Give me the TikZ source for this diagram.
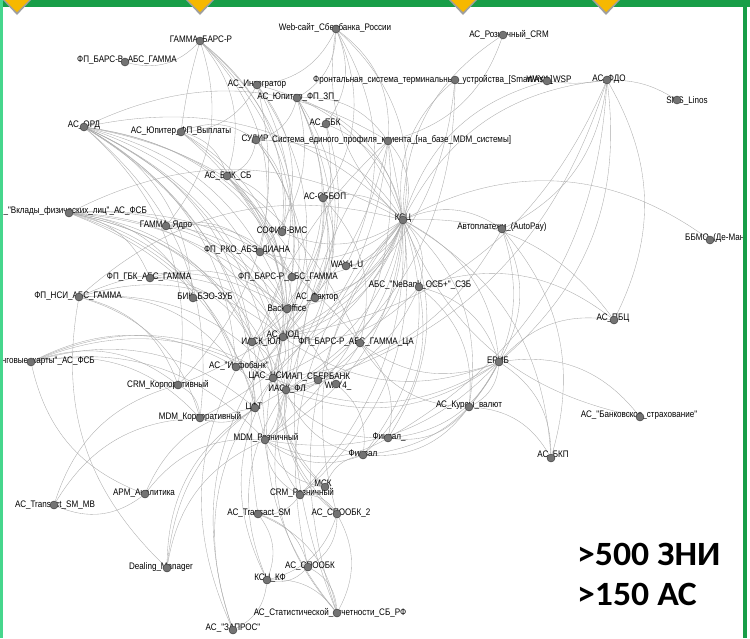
\documentclass[tikz,border=0pt]{standalone}
\usepackage{fontspec}
\newfontfamily\lblfont[FakeStretch=0.85]{Liberation Sans}
\newfontfamily\bigfont[FakeStretch=1.05]{Carlito}
\pgfdeclarelayer{bg}
\pgfdeclarelayer{edges}
\pgfsetlayers{bg,edges,main}
\definecolor{topgreen}{RGB}{24,158,72}
\definecolor{leftgreen}{RGB}{70,214,140}
\definecolor{diayellow}{RGB}{246,184,0}
\tikzset{
  lbl/.style={font=\lblfont\fontsize{9.5}{10}\selectfont, inner sep=0pt, text=black},
  nd/.style={circle, fill=black!55, draw=black!80, line width=0.4pt, minimum size=8pt, inner sep=0pt},
  lnk/.style={draw=black!33, line width=0.35pt, bend left=28},
  bigtxt/.style={font=\bigfont\bfseries\fontsize{34}{36}\selectfont, anchor=base west, inner sep=0pt, text=black}
}
\newcommand\sysn[5][]{\node[lbl,#1] (#2L) at (#4) {#5}; \node[nd] (#2) at (#3) {};}
\begin{document}
\begin{tikzpicture}[x=1pt,y=-1pt]
\useasboundingbox (0,0) rectangle (750,638);
\begin{pgfonlayer}{bg}
\fill[white] (0,0) rectangle (750,638);
\end{pgfonlayer}
\begin{scope}
\clip (3,0) rectangle (743,638);
\sysn{gbr}{200,41}{201,40}{ГАММА\_БАРС-Р}
\sysn{fpbv}{125,62}{127,60}{ФП\_БАРС-В\_АБС\_ГАММА}
\sysn{web}{336,29}{335,28}{Web-сайт\_Сбербанка\_России}
\sysn{crmr}{503,35}{509,35}{АС\_Розничный\_CRM}
\sysn{integ}{257,85}{257,84}{АС\_Интегратор}
\sysn{jzp}{297,98}{298,97}{АС\_Юпитер\_ФП\_ЗП\_}
\sysn[anchor=west]{front}{455,80}{313,80}{Фронтальная\_система\_терминальные\_устройства\_[SmartVista]}
\sysn{wsp}{547,81}{549,80}{WAY4\_WSP}
\sysn{fdo}{607,80}{609,79}{АС\_ФДО}
\sysn{sms}{677,100}{687,101}{SMS\_Linos}
\sysn{ord}{84,127}{84,125}{АС\_ОРД}
\sysn{jvyp}{181,132}{181,131}{АС\_Юпитер\_ФП\_Выплаты}
\sysn{ebk}{326,124}{325,123}{АС\_ЕБК}
\sysn{sudir}{256,140}{255,139}{СУДИР}
\sysn[anchor=west]{sep}{388,141}{272,140}{Система\_единого\_профиля\_клиента\_[на\_базе\_MDM\_системы]}
\sysn{bik}{227,176}{228,176}{АС\_БИК\_СБ}
\sysn{sbop}{323,198}{325,196}{АС-СББОП}
\sysn{ksc}{403,220}{403,218}{КСЦ}
\sysn{autop}{502,229}{502,227}{Автоплатежи\_(AutoPay)}
\sysn[anchor=west]{bbmo}{710,240}{685,238}{ББМО\_(Де-Мани)}
\sysn[anchor=east]{vkl}{69,213}{147,211}{ФП\_"Вклады\_физических\_лиц"\_АС\_ФСБ}
\sysn{gyadro}{166,226}{166,225}{ГАММА\_Ядро}
\sysn{sofia}{282,232}{282,230}{СОФИЯ-ВМС}
\sysn{rko}{260,252}{247,250}{ФП\_РКО\_АБЭ\_ДИАНА}
\sysn{way4u}{346,266}{347,265}{WAY4\_U}
\sysn{gbk}{150,278}{149,277}{ФП\_ГБК\_АБС\_ГАММА}
\sysn{bars}{292,277}{288,277}{ФП\_БАРС-Р\_АБС\_ГАММА}
\sysn{nsi}{79,297}{78,296}{ФП\_НСИ\_АБС\_ГАММА}
\sysn{bik2}{193,298}{205,297}{БИК\_БЭО-ЗУБ}
\sysn{faktor}{315,298}{317,297}{АС\_Фактор}
\sysn{boff}{287,309}{287,308}{BackOffice}
\sysn{neb}{419,287}{420,285}{АБС\_"NeBank\_ОСБ+"\_СЗБ}
\sysn{pbc}{614,320}{613,318}{АС\_ПБЦ}
\sysn{cod}{283,337}{283,335}{АС\_ЦОД}
\sysn{iasu}{252,342}{261,342}{ИАСК\_ЮЛ}
\sysn{barsca}{360,343}{356,342}{ФП\_БАРС-Р\_АБС\_ГАММА\_ЦА}
\sysn{infob}{236,367}{239,366}{АС\_"Инфобанк"}
\sysn{cas}{273,378}{268,376}{ЦАС\_НСИ}
\sysn{iap}{318,380}{318,377}{ИАП\_СБЕРБАНК}
\sysn{way4}{336,384}{338,386}{WAY4\_}
\sysn{iasf}{286,390}{287,389}{ИАСК\_ФЛ}
\sysn{crmk}{178,385}{168,385}{CRM\_Корпоративный}
\sysn{cft}{255,408}{254,407}{ЦФТ}
\sysn{mdmk}{200,418}{200,417}{MDM\_Корпоративный}
\sysn{mdmr}{265,440}{266,438}{MDM\_Розничный}
\sysn{kurs}{469,407}{469,405}{АС\_Курсы\_валют}
\sysn{erib}{499,362}{498,360}{ЕРИБ}
\sysn{bstr}{640,417}{639,415}{АС\_"Банковское\_страхование"}
\sysn{finv1}{388,438}{389,437}{Финвал\_}
\sysn{finv2}{363,455}{363,453}{Финвал}
\sysn{bkp}{551,458}{553,455}{АС\_БКП}
\sysn{msk}{325,487}{323,483}{МСК}
\sysn{crmroz}{300,495}{302,493}{CRM\_Розничный}
\sysn{apm}{145,494}{144,493}{APM\_Аналитика}
\sysn{tsmmb}{54,505}{55,505}{АС\_Transact\_SM\_MB}
\sysn{tsm}{258,514}{259,513}{АС\_Transact\_SM}
\sysn{spoobk2}{337,514}{341,513}{АС\_СПООБК\_2}
\sysn{deal}{167,568}{161,567}{Dealing\_Manager}
\sysn{spoobk}{308,567}{310,566}{АС\_СПООБК}
\sysn{kscf}{267,580}{270,578}{КСЦ\_КФ}
\sysn{stat}{337,613}{330,613}{АС\_Статистической\_отчетности\_СБ\_РФ}
\sysn{zapros}{233,630}{233,628}{АС\_"ЗАПРОС"}
\sysn[anchor=east]{proc}{31,362}{95,361}{ФП\_"Процессинговые\_карты"\_АС\_ФСБ}
\end{scope}

\begin{pgfonlayer}{edges}
\foreach \a/\b in {
 ord/cod, ord/iasu, ord/infob, ord/cas, ord/iasf, ord/cft, ord/mdmk, ord/mdmr, ord/boff, ord/faktor, ord/barsca, ord/bars, ord/crmk, ord/bik2, ord/ksc, ord/sep,
 vkl/gbk, vkl/bik2, vkl/boff, vkl/cod, vkl/iasu, vkl/infob, vkl/cas, vkl/iasf, vkl/cft, vkl/mdmr, vkl/barsca, vkl/way4, vkl/ksc,
 nsi/cod, nsi/infob, nsi/iasf, nsi/crmk, nsi/mdmk, nsi/boff, nsi/ksc,
 proc/crmk, proc/mdmk, proc/cft, proc/infob, proc/cas, proc/mdmr, proc/iasf,
 gbr/bik, gbr/gyadro, gbr/rko, gbr/bars, gbr/sofia, gbr/boff,
 gyadro/rko, gyadro/bars, gyadro/boff, gyadro/cod,
 gbk/boff, gbk/cod, gbk/iasu,
 jvyp/sudir, jvyp/cod, jvyp/iasf, jvyp/boff, jvyp/bik,
 integ/ksc, integ/cod, integ/iasu, integ/sofia, integ/jvyp, integ/crmk,
 jzp/sudir, jzp/sep, jzp/ksc, jzp/cod, jzp/boff, jzp/iasf, jzp/rko, jzp/faktor,
 web/jzp, web/ebk, web/sep, web/ksc, web/sbop, web/integ, web/way4u,
 ebk/ksc, ebk/cod, ebk/iasu,
 sudir/cod, sudir/ksc, sudir/iasf, sudir/sofia, sudir/bik,
 sep/ksc, sep/crmk, sep/mdmk, sep/mdmr, sep/crmroz,
 bik/sofia, bik/cod, bik/cas, bik/iasf,
 sbop/ksc, sbop/cod, sbop/faktor, sbop/iasu, sbop/barsca, sbop/cas,
 ksc/crmr, ksc/web, ksc/front, ksc/wsp, ksc/fdo, ksc/autop, ksc/pbc, ksc/erib, ksc/kurs, ksc/bkp, ksc/finv1, ksc/finv2, ksc/neb, ksc/cod, ksc/iasu, ksc/iasf, ksc/cas, ksc/barsca, ksc/way4u, ksc/sofia, ksc/rko, ksc/bars, ksc/faktor, ksc/boff, ksc/mdmr, ksc/crmroz, ksc/infob, ksc/iap,
 crmr/sep, front/cod, front/iasf,
 fdo/autop, fdo/pbc, fdo/erib, fdo/cod, fdo/iasf, fdo/finv1,
 autop/erib, autop/kurs, autop/bkp, autop/cas,
 neb/erib, neb/pbc, neb/kurs, neb/cod, neb/iasf, neb/finv2,
 erib/pbc, erib/kurs, erib/finv1, erib/finv2, erib/bkp, erib/cod, erib/iasf, erib/cas, erib/mdmr, erib/barsca,
 kurs/finv1, kurs/finv2, kurs/barsca, kurs/bkp,
 bstr/ksc, cod/iasu, cod/infob, cod/cas,
 iasu/cas, infob/cft, cas/mdmr, iasf/mdmr, cft/mdmk, crmk/mdmk, barsca/iasf, barsca/finv1, way4/finv2, iap/iasf,
 crmroz/msk, crmroz/tsm, crmroz/spoobk2, crmroz/mdmr, crmroz/iasf, tsm/kscf, tsm/spoobk, tsm/stat, tsm/sep,
 spoobk2/spoobk, spoobk2/kscf, spoobk2/stat, spoobk2/iasf, spoobk2/cod, spoobk2/ksc, spoobk/stat, spoobk/kscf, spoobk/ksc,
 kscf/zapros, kscf/stat, kscf/iasf, kscf/cas, stat/cod, stat/iasf, stat/ksc, stat/sep, zapros/cod, zapros/cas, zapros/iasu,
 msk/mdmr, msk/finv2, msk/iasf, msk/cod, deal/cft, deal/mdmr, deal/iasf, deal/nsi, apm/mdmr, apm/cft, apm/proc,
 tsmmb/crmk, tsmmb/mdmk, finv2/mdmr, finv1/mdmr, finv2/iasf, finv1/cas}
 {\draw[lnk] (\a) to (\b);}
\draw[lnk, bend left=32] (ksc) to (bbmo);
\draw[lnk, bend left=30] (erib) to (bstr);
\draw[lnk, bend left=8] (fdo) to (wsp);
\draw[lnk, bend left=15] (fdo) to (sms);
\draw[lnk, bend right=30] (fpbv) to (gbr);
\draw[lnk, bend right=4] (gbr) to (jvyp);
\draw[lnk, bend right=30] (tsmmb) to (apm);
\end{pgfonlayer}

\node[bigtxt] (n500) at (577,565) {>500 ЗНИ};
\node[bigtxt] (n150) at (577,605) {>150 АС};

\fill[topgreen] (0,0) rectangle (750,7);
\fill[leftgreen] (0,0) rectangle (3,638);
\fill[topgreen] (743,0) rectangle (747,638);
\foreach \x in {17,200,463,606} {
  \fill[gray!75] (\x-14,0) -- (\x+14,0) -- (\x,15) -- cycle;
  \fill[diayellow] (\x-12,0) -- (\x+12,0) -- (\x,12) -- cycle;
}
\end{tikzpicture}
\end{document}
